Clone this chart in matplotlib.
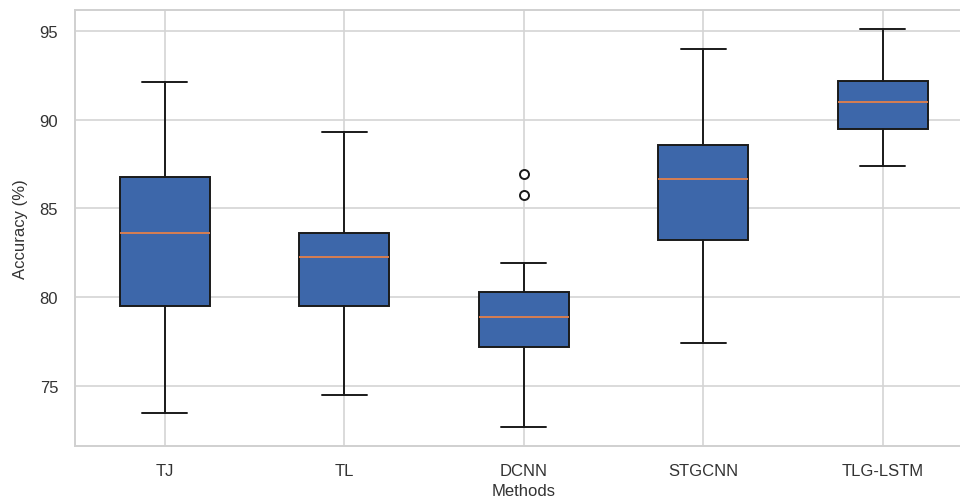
import matplotlib
matplotlib.use("Agg")
import matplotlib.pyplot as plt
import seaborn as sns

methods = ["TJ", "TL", "DCNN", "STGCNN", "TLG-LSTM"]
whislo = [73.5, 74.5, 72.7, 77.4, 87.4]
q1 = [79.5, 79.5, 77.2, 83.2, 89.5]
med = [83.6, 82.25, 78.9, 86.65, 91.0]
q3 = [86.8, 83.6, 80.3, 88.6, 92.2]
whishi = [92.1, 89.3, 81.95, 94.0, 95.1]
fliers = [[], [], [85.75, 86.95], [], []]

sns.set_theme(style="whitegrid")
plt.rcParams["font.family"] = ["Liberation Sans", "DejaVu Sans"]

stats = []
for i, name in enumerate(methods):
    stats.append({
        "label": name,
        "whislo": whislo[i],
        "q1": q1[i],
        "med": med[i],
        "q3": q3[i],
        "whishi": whishi[i],
        "fliers": fliers[i],
    })

fig = plt.figure(figsize=(9.6, 5.02), dpi=100)
ax = fig.add_axes([0.078, 0.1096, 0.935, 0.8685])

ax.bxp(
    stats,
    widths=0.5,
    patch_artist=True,
    boxprops=dict(facecolor="#3d67aa", edgecolor="#1a1a1a", linewidth=1.4),
    medianprops=dict(color="#e4804a", linewidth=1.3),
    whiskerprops=dict(color="#1a1a1a", linewidth=1.4),
    capprops=dict(color="#1a1a1a", linewidth=1.4),
    flierprops=dict(marker="o", markerfacecolor="white", markeredgecolor="#1a1a1a",
                    markersize=6.5, markeredgewidth=1.4),
)

ax.set_xlim(0.5, 5.5)
ax.set_ylim(71.62, 96.18)
ax.set_yticks([75, 80, 85, 90, 95])
ax.grid(True, color="#d4d4d4", linewidth=1.2)
for s in ax.spines.values():
    s.set_color("#d0d0d0")
    s.set_linewidth(1.4)
ax.tick_params(axis="both", length=0, labelsize=12, labelcolor="#333333")
ax.tick_params(axis="x", pad=12)
ax.tick_params(axis="y", pad=12)
ax.set_xlabel("Methods", fontsize=12, color="#333333", labelpad=4)
ax.set_ylabel("Accuracy (%)", fontsize=12, color="#333333", labelpad=8)

fig.savefig("out.png", dpi=100)
